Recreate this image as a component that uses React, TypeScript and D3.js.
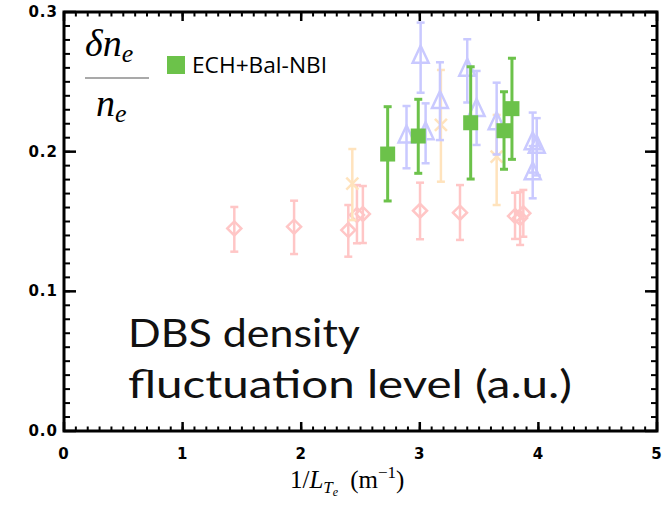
import React from "react";
import * as d3 from "d3";

// Normalized density fluctuation level vs inverse electron temperature scale length
// Each series: x (1/L_Te, m^-1), y (dn/n), lo / hi (error bar ends)

const echX = [2.729, 2.987, 3.429, 3.71, 3.777];
const echY = [0.1983, 0.2112, 0.2207, 0.215, 0.2308];
const echLo = [0.1647, 0.1845, 0.1804, 0.1874, 0.1945];
const echHi = [0.2322, 0.2375, 0.2608, 0.2429, 0.2669];

const triX = [3.007, 2.888, 3.049, 3.17, 3.4, 3.479, 3.648, 3.952, 3.986, 3.952];
const triY = [0.268, 0.2108, 0.2132, 0.2355, 0.2586, 0.2298, 0.2203, 0.206, 0.2036, 0.1845];
const triLo = [0.2422, 0.1881, 0.1917, 0.2083, 0.2352, 0.2048, 0.198, 0.185, 0.183, 0.1666];
const triHi = [0.2924, 0.2327, 0.2346, 0.264, 0.2805, 0.2578, 0.2494, 0.228, 0.224, 0.204];

const crossX = [2.431, 3.178, 3.648];
const crossY = [0.1772, 0.2191, 0.1964];
const crossLo = [0.151, 0.1785, 0.1618];
const crossHi = [0.2019, 0.2585, 0.2263];

const diaX = [1.436, 1.94, 2.397, 2.47, 2.52, 3.002, 3.339, 3.803, 3.846, 3.873];
const diaY = [0.145, 0.1463, 0.1439, 0.1547, 0.1554, 0.1577, 0.1563, 0.1539, 0.1525, 0.1559];
const diaLo = [0.1284, 0.1267, 0.1248, 0.1344, 0.1346, 0.1373, 0.1368, 0.1375, 0.1332, 0.1391];
const diaHi = [0.1604, 0.1649, 0.1618, 0.1761, 0.1754, 0.1778, 0.1761, 0.1706, 0.1711, 0.1726];

const xTicks = [0, 1, 2, 3, 4, 5];
const yTicks = [0.0, 0.1, 0.2, 0.3];
const legendLabel = "ECH+Bal-NBI";

const W = 663;
const H = 505;
const left = 64;
const right = 657;
const top = 12;
const bottom = 431;

const x = d3.scaleLinear().domain([0, 5]).range([left, right]);
const y = d3.scaleLinear().domain([0, 0.3]).range([bottom, top]);

const GREEN = "#6cc24a";
const LAVENDER = "#c9c9ff";
const PEACH = "#ffe3bd";
const PINK = "#ffc6c6";

type Pt = { x: number; y: number; lo: number; hi: number };
const zipPts = (xs: number[], ys: number[], lo: number[], hi: number[]): Pt[] =>
  xs.map((v, i) => ({ x: v, y: ys[i], lo: lo[i], hi: hi[i] }));

function ErrorBar({ p, color, width, cap }: { p: Pt; color: string; width: number; cap: number }) {
  const cx = x(p.x);
  return (
    <g stroke={color} strokeWidth={width} fill="none">
      <line x1={cx} x2={cx} y1={y(p.lo)} y2={y(p.hi)} />
      <line x1={cx - cap} x2={cx + cap} y1={y(p.lo)} y2={y(p.lo)} />
      <line x1={cx - cap} x2={cx + cap} y1={y(p.hi)} y2={y(p.hi)} />
    </g>
  );
}

export default function App() {
  const minorX = d3.range(0, 5.0001, 0.1);
  const minorY = d3.range(0, 0.30001, 0.01);

  const diamonds = zipPts(diaX, diaY, diaLo, diaHi);
  const crosses = zipPts(crossX, crossY, crossLo, crossHi);
  const tris = zipPts(triX, triY, triLo, triHi);
  const ech = zipPts(echX, echY, echLo, echHi);

  const tickFont = { fontFamily: "'DejaVu Sans', sans-serif", fontWeight: 700, fontSize: 15 };

  return (
    <svg width={W} height={H} style={{ position: "absolute", left: 0, top: 0, background: "#fff" }}>
      <rect x={0} y={0} width={W} height={H} fill="#fff" />

      {/* pink diamonds */}
      {diamonds.map((p, i) => (
        <g key={"d" + i}>
          <ErrorBar p={p} color={PINK} width={2.5} cap={4} />
          <path
            d={`M${x(p.x) - 7},${y(p.y)} L${x(p.x)},${y(p.y) - 7} L${x(p.x) + 7},${y(p.y)} L${x(p.x)},${y(p.y) + 7} Z`}
            fill="none"
            stroke={PINK}
            strokeWidth={2.5}
          />
        </g>
      ))}

      {/* peach crosses */}
      {crosses.map((p, i) => (
        <g key={"c" + i}>
          <ErrorBar p={p} color={PEACH} width={2.5} cap={4} />
          <g stroke={PEACH} strokeWidth={2.5}>
            <line x1={x(p.x) - 6} x2={x(p.x) + 6} y1={y(p.y) - 6} y2={y(p.y) + 6} />
            <line x1={x(p.x) - 6} x2={x(p.x) + 6} y1={y(p.y) + 6} y2={y(p.y) - 6} />
          </g>
        </g>
      ))}

      {/* lavender triangles */}
      {tris.map((p, i) => (
        <g key={"t" + i}>
          <ErrorBar p={p} color={LAVENDER} width={2.5} cap={4} />
          <path
            d={`M${x(p.x)},${y(p.y) - 11} L${x(p.x) + 8},${y(p.y) + 6} L${x(p.x) - 8},${y(p.y) + 6} Z`}
            fill="none"
            stroke={LAVENDER}
            strokeWidth={2.5}
          />
        </g>
      ))}

      {/* ECH + balanced NBI squares */}
      {ech.map((p, i) => (
        <g key={"g" + i}>
          <ErrorBar p={p} color={GREEN} width={3} cap={4} />
          <rect x={x(p.x) - 7.5} y={y(p.y) - 7.5} width={15} height={15} fill={GREEN} />
        </g>
      ))}

      {/* minor ticks, all four sides, pointing inward */}
      <g stroke="#000" strokeWidth={2}>
        {minorX.map((v, i) => (
          <g key={"mx" + i}>
            <line x1={x(v)} x2={x(v)} y1={bottom} y2={bottom - 4.5} />
            <line x1={x(v)} x2={x(v)} y1={top} y2={top + 4.5} />
          </g>
        ))}
        {minorY.map((v, i) => (
          <g key={"my" + i}>
            <line x1={left} x2={left + 6} y1={y(v)} y2={y(v)} />
            <line x1={right} x2={right - 6} y1={y(v)} y2={y(v)} />
          </g>
        ))}
      </g>
      {/* major ticks */}
      <g stroke="#000" strokeWidth={2.5}>
        {xTicks.map((v, i) => (
          <g key={"Mx" + i}>
            <line x1={x(v)} x2={x(v)} y1={bottom} y2={bottom - 9} />
            <line x1={x(v)} x2={x(v)} y1={top} y2={top + 9} />
          </g>
        ))}
        {yTicks.map((v, i) => (
          <g key={"My" + i}>
            <line x1={left} x2={left + 12} y1={y(v)} y2={y(v)} />
            <line x1={right} x2={right - 12} y1={y(v)} y2={y(v)} />
          </g>
        ))}
      </g>

      {/* frame */}
      <rect x={left} y={top} width={right - left} height={bottom - top} fill="none" stroke="#000" strokeWidth={3} />

      {/* tick labels */}
      {xTicks.map((v, i) => (
        <text key={"lx" + i} x={x(v)} y={bottom + 28} textAnchor="middle" style={tickFont} letterSpacing={1}>
          {d3.format("d")(v)}
        </text>
      ))}
      {yTicks.map((v, i) => (
        <text key={"ly" + i} x={left - 6} y={y(v) + 5} textAnchor="end" style={tickFont} letterSpacing={1}>
          {d3.format(".1f")(v)}
        </text>
      ))}

      {/* x axis title: 1/L_{T_e} (m^-1) */}
      <text x={290} y={488} style={{ fontFamily: "'Liberation Serif', serif", fontSize: 25 }}>
        <tspan>1/</tspan>
        <tspan fontStyle="italic">L</tspan>
        <tspan fontStyle="italic" fontSize={17} dy={5}>T</tspan>
        <tspan fontStyle="italic" fontSize={12} dy={3}>e</tspan>
        <tspan dy={-8} dx={12}>(m</tspan>
        <tspan fontSize={17} dy={-10}>−1</tspan>
        <tspan dy={10}>)</tspan>
      </text>

      {/* y quantity: δn_e / n_e */}
      <g style={{ fontFamily: "'Liberation Serif', serif", fontStyle: "italic" }}>
        <text x={85} y={56} fontSize={38}>
          <tspan>δn</tspan>
          <tspan fontSize={26} dy={6}>e</tspan>
        </text>
        <line x1={85} x2={149} y1={78} y2={78} stroke="#555" strokeWidth={1.2} />
        <text x={96} y={116} fontSize={38}>
          <tspan>n</tspan>
          <tspan fontSize={26} dy={6}>e</tspan>
        </text>
      </g>

      {/* legend */}
      <rect x={167} y={56} width={18} height={18} fill={GREEN} />
      <text
        x={192}
        y={73}
        style={{ fontFamily: "'Open Sans', sans-serif", fontSize: 21 }}
        textLength={135}
        lengthAdjust="spacingAndGlyphs"
      >
        {legendLabel}
      </text>

      {/* annotation */}
      <g style={{ fontFamily: "Lato, sans-serif", fontSize: 39, fontWeight: 400 }} fill="#111">
        <text x={128} y={347} textLength={232} lengthAdjust="spacingAndGlyphs">DBS density</text>
        <text x={128} y={398} textLength={444} lengthAdjust="spacingAndGlyphs">fluctuation level (a.u.)</text>
      </g>
    </svg>
  );
}
